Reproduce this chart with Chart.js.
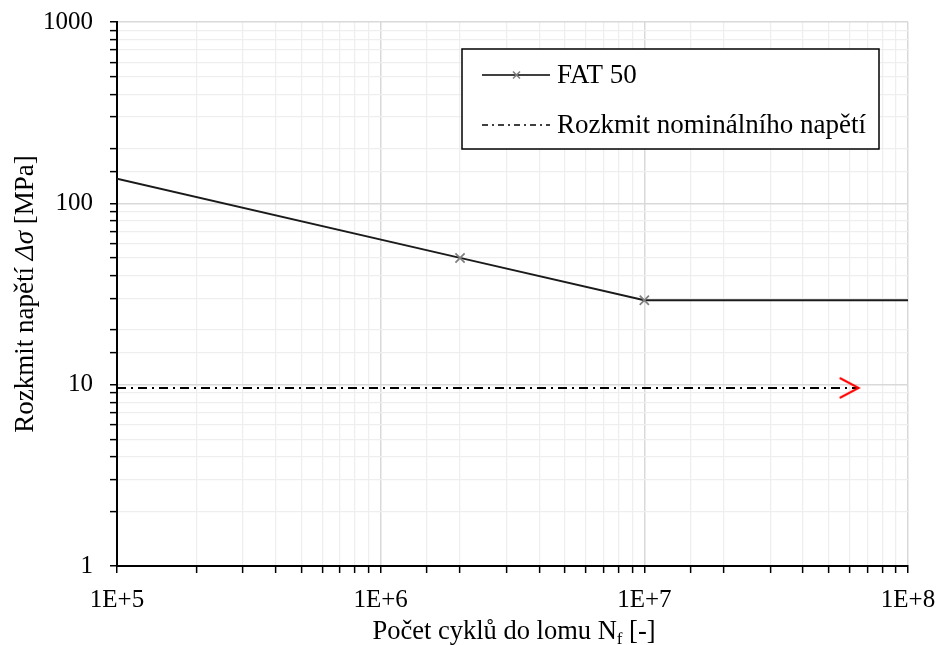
<!DOCTYPE html>
<html>
<head>
<meta charset="utf-8">
<script src="https://cdn.jsdelivr.net/npm/chart.js@4"></script>
<style>
  html, body { margin: 0; padding: 0; background: #fff; }
  #wrap { width: 938px; height: 645px; position: relative; }
</style>
</head>
<body>
<div id="wrap"><canvas id="chart"></canvas></div>
<script>
'use strict';

// Data
const fatCycles = [1e5, 2e6, 1e7, 1e8];
const fatStress = [136.8, 50, 29.2, 29.2];
const nominalCycles = [1e5, 6.5e7];
const nominalStress = [9.6, 9.6];

const xDecades = [1e5, 1e6, 1e7, 1e8];
const xTickLabels = ['1E+5', '1E+6', '1E+7', '1E+8'];
const yDecades = [1, 10, 100, 1000];
const yTickLabels = ['1', '10', '100', '1000'];

const FONT = '"Liberation Serif", "Times New Roman", serif';
const ctx = document.getElementById('chart').getContext('2d');

const isDecade = v => {
  const l = Math.log10(v);
  return Math.abs(l - Math.round(l)) < 1e-9;
};
const labelFor = (v, decades, labels) => {
  if (!isDecade(v)) return '';
  const i = decades.findIndex(d => Math.abs(d - v) / d < 1e-9);
  return i >= 0 ? labels[i] : '';
};

// red open arrow head, tip at canvas centre
const makeArrow = function () {
  const c = document.createElement('canvas');
  c.width = 44;
  c.height = 24;
  const g = c.getContext('2d');
  g.strokeStyle = '#ff0000';
  g.lineWidth = 2;
  g.beginPath();
  g.moveTo(3, 2);
  g.lineTo(22, 12);
  g.lineTo(3, 22);
  g.stroke();
  return c;
};
const arrow = makeArrow();

const gridColor = c => (isDecade(c.tick.value) ? '#d9d9d9' : '#eeeeee');
const gridWidth = c => (isDecade(c.tick.value) ? 1.5 : 1.25);

// Legend drawn inside plot area
const boxLegend = {
  id: 'boxLegend',
  afterDraw(chart) {
    const g = chart.ctx;
    const ds = chart.data.datasets;
    const x0 = 462, y0 = 49, w = 417, h = 100;
    g.save();
    g.fillStyle = '#fff';
    g.fillRect(x0, y0, w, h);
    g.strokeStyle = '#000';
    g.lineWidth = 1.5;
    g.strokeRect(x0, y0, w, h);

    const rows = [75, 125];
    ds.forEach((d, i) => {
      const y = rows[i];
      g.strokeStyle = '#000';
      g.lineWidth = 1.3;
      g.setLineDash(i === 1 ? [6, 4, 2, 4] : []);
      g.beginPath();
      g.moveTo(482, y);
      g.lineTo(550, y);
      g.stroke();
      g.setLineDash([]);
      if (i === 0) {
        g.strokeStyle = '#7f7f7f';
        g.lineWidth = 1.5;
        g.beginPath();
        g.moveTo(513, y - 3.5);
        g.lineTo(520, y + 3.5);
        g.moveTo(513, y + 3.5);
        g.lineTo(520, y - 3.5);
        g.stroke();
      }
      g.fillStyle = '#000';
      g.font = '27px ' + FONT;
      g.textBaseline = 'middle';
      g.textAlign = 'left';
      g.fillText(d.label, 557, y + 1);
    });
    g.restore();
  },
};

// Axis titles with italic / subscript parts
const axisTitles = {
  id: 'axisTitles',
  afterDraw(chart) {
    const g = chart.ctx;
    const area = chart.chartArea;
    g.save();
    g.fillStyle = '#000';
    g.textBaseline = 'alphabetic';
    g.textAlign = 'left';

    // x title
    const xParts = [
      { t: 'Počet cyklů do lomu N', f: '26.5px ' + FONT, dy: 0 },
      { t: 'f', f: '17px ' + FONT, dy: 5 },
      { t: ' [-]', f: '26.5px ' + FONT, dy: 0 },
    ];
    let total = 0;
    xParts.forEach(p => {
      g.font = p.f;
      total += g.measureText(p.t).width;
    });
    let x = 514 - total / 2;
    xParts.forEach(p => {
      g.font = p.f;
      g.fillText(p.t, x, 639 + p.dy);
      x += g.measureText(p.t).width;
    });

    // y title
    const yParts = [
      { t: 'Rozkmit napětí ', f: '27px ' + FONT },
      { t: 'Δσ', f: 'italic 27px ' + FONT },
      { t: ' [MPa]', f: '27px ' + FONT },
    ];
    total = 0;
    yParts.forEach(p => {
      g.font = p.f;
      total += g.measureText(p.t).width;
    });
    g.translate(33, (area.top + area.bottom) / 2);
    g.rotate(-Math.PI / 2);
    x = -total / 2;
    yParts.forEach(p => {
      g.font = p.f;
      g.fillText(p.t, x, 0);
      x += g.measureText(p.t).width;
    });
    g.restore();
  },
};

new Chart(ctx, {
  type: 'line',
  data: {
    datasets: [
      {
        label: 'FAT 50',
        data: fatCycles.map((n, i) => ({ x: n, y: fatStress[i] })),
        borderColor: '#1a1a1a',
        borderWidth: 1.9,
        pointStyle: 'crossRot',
        pointRadius: [0, 6.5, 6.5, 0],
        pointBorderColor: '#7f7f7f',
        pointBorderWidth: 1.75,
        pointBackgroundColor: '#7f7f7f',
        tension: 0,
      },
      {
        label: 'Rozkmit nominálního napětí',
        data: nominalCycles.map((n, i) => ({ x: n, y: nominalStress[i] })),
        borderColor: '#000000',
        borderWidth: 2,
        borderDash: [9, 5, 2, 5],
        pointStyle: [false, arrow],
        pointRadius: [0, 10],
        tension: 0,
      },
    ],
  },
  options: {
    responsive: true,
    maintainAspectRatio: false,
    animation: false,
    layout: {
      padding: { top: 22, right: 30, left: 0, bottom: 0 },
    },
    scales: {
      x: {
        type: 'logarithmic',
        min: 1e5,
        max: 1e8,
        afterFit(scale) {
          scale.height = 79;
          scale.paddingLeft = 0;
          scale.paddingRight = 0;
        },
        grid: {
          color: gridColor,
          lineWidth: gridWidth,
          tickColor: '#000',
          tickLength: 7,
          tickWidth: 1.5,
        },
        border: { color: '#000', width: 2 },
        ticks: {
          autoSkip: false,
          maxRotation: 0,
          padding: 12,
          color: '#000',
          font: { family: FONT, size: 25 },
          callback: v => labelFor(v, xDecades, xTickLabels),
        },
      },
      y: {
        type: 'logarithmic',
        min: 1,
        max: 1000,
        afterFit(scale) {
          scale.width = 117;
          scale.paddingTop = 0;
          scale.paddingBottom = 0;
        },
        grid: {
          color: gridColor,
          lineWidth: gridWidth,
          tickColor: '#000',
          tickLength: 7,
          tickWidth: 1.5,
        },
        border: { color: '#000', width: 2 },
        ticks: {
          autoSkip: false,
          padding: 17,
          color: '#000',
          font: { family: FONT, size: 25 },
          callback: v => labelFor(v, yDecades, yTickLabels),
        },
      },
    },
    plugins: {
      legend: { display: false },
      tooltip: { enabled: false },
    },
  },
  plugins: [boxLegend, axisTitles],
});
</script>
</body>
</html>
